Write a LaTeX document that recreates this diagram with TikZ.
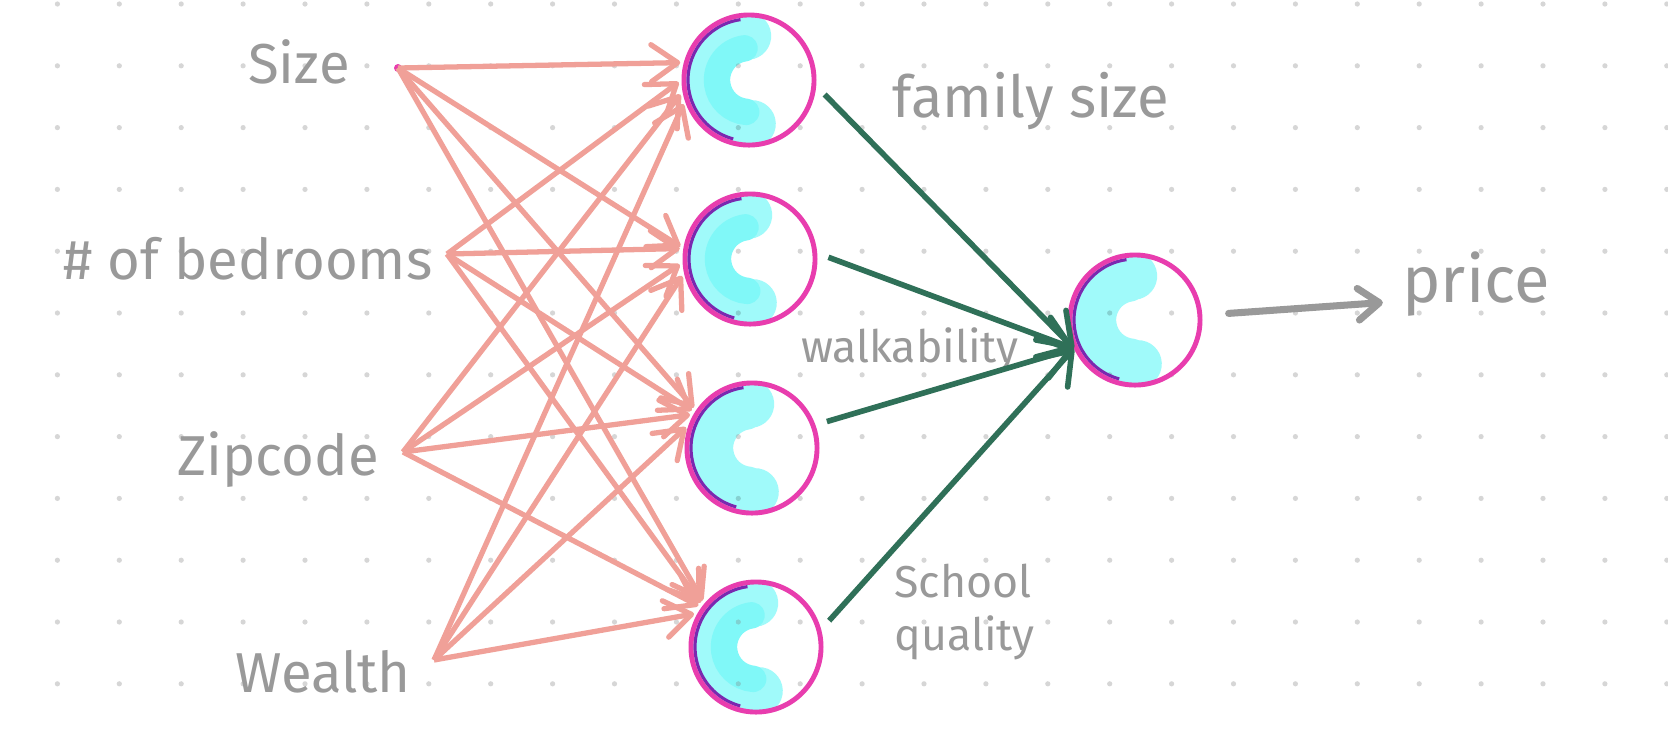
\documentclass[tikz,border=0pt]{standalone}
\usepackage{fontspec}
\setmainfont{Fira Sans}
\usepackage{xcolor}
\usepackage{tikz}
\usetikzlibrary{arrows.meta}

\definecolor{inkgray}{RGB}{153,153,153}
\definecolor{dotgray}{RGB}{214,214,214}
\definecolor{edgepink}{RGB}{240,160,152}
\definecolor{ringpink}{RGB}{232,61,174}
\definecolor{blobcyan}{RGB}{160,250,250}
\definecolor{corecyan}{RGB}{128,248,248}
\definecolor{rimpurple}{RGB}{122,40,176}
\definecolor{edgegreen}{RGB}{47,112,88}

\tikzset{>={Straight Barb[round]}}

% the cyan "C" scribbled inside each neuron
\newcommand{\neuronblob}[1]{%
  \begin{scope}[shift={(path picture bounding box.center)}]
    \draw[blobcyan, line width=13.5pt, line cap=round, blend mode=multiply]
      (268:44) arc[start angle=268, end angle=86, radius=44];
    \draw[#1, line width=7.5pt, line cap=round, blend mode=darken]
      (262:32) arc[start angle=262, end angle=95, radius=32];
    \draw[rimpurple, line width=0.9pt]
      (262:61) arc[start angle=262, end angle=105, radius=61];
  \end{scope}}

\begin{document}
\begin{tikzpicture}[x=0.01cm, y=-0.01cm]
	\tikzstyle{neuron}=[circle, draw=ringpink, line width=1.4pt, minimum size=1.30cm, inner sep=0pt, path picture={\neuronblob{#1}}]
	\tikzset{neuron/.default=blobcyan}
	\tikzstyle{inlabel}=[text=inkgray, anchor=base, font=\fontsize{16}{19}\selectfont]
	\tikzstyle{featlabel}=[text=inkgray, anchor=base, font=\fontsize{12.7}{15}\selectfont]
	\tikzstyle{inedge}=[-{Straight Barb[length=7.5pt, width=10.5pt, round]}, edgepink, line width=1.5pt, shorten >=1pt]
	\tikzstyle{featedge}=[-{Straight Barb[length=8.5pt, width=12pt, round]}, edgegreen, line width=1.6pt, shorten <=3.4pt]
	\tikzstyle{outedge}=[-{Straight Barb[length=6pt, width=9pt, round]}, inkgray, line width=2pt, line cap=round, shorten <=7.5pt, shorten >=2pt]

	\fill[white] (0,0) rectangle (1668,735);
	\useasboundingbox (0,0) rectangle (1668,735);

	% dotted paper
	\foreach \i in {0,...,26}
		\foreach \j in {0,...,11}
			\fill[dotgray] ({57.4+61.9*\i},{4+61.8*\j}) circle (2.6);

	% inputs
	\node[inlabel] (size) at (299,83) {Size};
	\node[inlabel] (bedrooms) at (248,279) {\# of bedrooms};
	\node[inlabel] (zipcode) at (278,475) {Zipcode};
	\node[inlabel] (wealth) at (323,692) {Wealth};

	\coordinate (size-out) at (398,68);
	\coordinate (bedrooms-out) at (447,254);
	\coordinate (zipcode-out) at (403,452);
	\coordinate (wealth-out) at (434,660);
	\fill[ringpink] (size-out) circle (4);

	% hidden layer
	\node[neuron=corecyan] (h1) at (749,80) {};
	\node[neuron=corecyan] (h2) at (750,259) {};
	\node[neuron] (h3) at (752,448) {};
	\node[neuron=corecyan] (h4) at (756,647) {};

	% output
	\node[neuron] (out) at (1135,320) {};
	\node[inlabel, font=\fontsize{18.5}{22}\selectfont] (price) at (1476,302) {price};

	% feature names
	\node[featlabel, font=\fontsize{16.5}{20}\selectfont] (family) at (1031,117) {family size};
	\node[featlabel] (walk) at (910,362) {walkability};
	\node[featlabel, anchor=base west, align=left] (school) at (882,650) {School\\quality};

	% inputs to hidden layer
	\draw[inedge] (size-out) -- (h1.165);
	\draw[inedge] (size-out) -- (h2.171);
	\draw[inedge] (size-out) -- (h3.146);
	\draw[inedge] (size-out) -- (h4.140);

	\draw[inedge] (bedrooms-out) -- (h1.180);
	\draw[inedge] (bedrooms-out) -- (h2.171);
	\draw[inedge] (bedrooms-out) -- (h3.148);
	\draw[inedge] (bedrooms-out) -- (h4.142);

	\draw[inedge] (zipcode-out) -- (h1.190);
	\draw[inedge] (zipcode-out) -- (h2.183);
	\draw[inedge] (zipcode-out) -- (h3.150);
	\draw[inedge] (zipcode-out) -- (h4.144);

	\draw[inedge] (wealth-out) -- (h1.198);
	\draw[inedge] (wealth-out) -- (h2.192);
	\draw[inedge] (wealth-out) -- (h3.160);
	\draw[inedge] (wealth-out) -- (h4.150);

	% hidden layer to output
	\draw[featedge] (h1.-5) -- (out.205);
	\draw[featedge] (h2.5) -- (out.205);
	\draw[featedge] (h3.20) -- (out.205);
	\draw[featedge] (h4.15) -- (out.205);

	\draw[outedge] (out) -- (price.base west);
\end{tikzpicture}
\end{document}
